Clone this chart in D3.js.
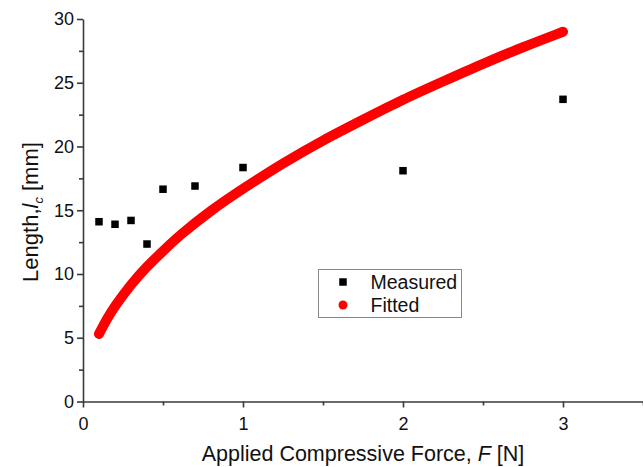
<!DOCTYPE html>
<html>
<head>
    <meta charset="UTF-8">
    <script src="https://d3js.org/d3.v7.min.js"></script>
    <style type="text/css">
        body { margin: 0; background: #fff; }
        text { font-family: "Liberation Sans", Arial, sans-serif; fill: #111; }
    </style>
</head>
<body>
    <script type="text/javascript">
        // Measured points
        var measuredForce = [0.1, 0.2, 0.3, 0.4, 0.5, 0.7, 1.0, 2.0, 3.0];
        var measuredLength = [14.1, 13.9, 14.2, 12.35, 16.65, 16.9, 18.35, 18.1, 23.7];

        // Fitted curve
        var fittedForce = [0.1, 0.15, 0.2, 0.3, 0.4, 0.5, 0.6, 0.8, 1.0, 1.25, 1.5, 1.75, 2.0, 2.25, 2.5, 2.75, 3.0];
        var fittedLength = [5.3, 6.5, 7.5, 9.2, 10.6, 11.8, 13.0, 15.0, 16.7, 18.7, 20.5, 22.1, 23.7, 25.1, 26.5, 27.8, 29.0];

        var xTicks = [0, 1, 2, 3];
        var yTicks = [0, 5, 10, 15, 20, 25, 30];

        var width = 643, height = 467;
        var margin = { top: 19, right: 0, bottom: 66, left: 83 };

        var svg = d3.select("body").append("svg")
            .attr("width", width)
            .attr("height", height);

        var x = d3.scaleLinear().domain([0, 3.5]).range([margin.left, width - margin.right]);
        var y = d3.scaleLinear().domain([0, 30]).range([height - margin.bottom + 0.5, margin.top]);

        var axisColor = "#3a3a3a";

        // minor ticks
        svg.append("g")
            .attr("transform", "translate(0," + y(0) + ")")
            .call(d3.axisBottom(x).tickValues([0.5, 1.5, 2.5, 3.5]).tickSize(4).tickFormat(""))
            .call(function (g) { g.select(".domain").remove(); });
        svg.append("g")
            .attr("transform", "translate(" + x(0) + ",0)")
            .call(d3.axisLeft(y).tickValues([2.5, 7.5, 12.5, 17.5, 22.5, 27.5]).tickSize(4).tickFormat(""))
            .call(function (g) { g.select(".domain").remove(); });

        // major axes
        var xAxis = svg.append("g")
            .attr("transform", "translate(0," + y(0) + ")")
            .call(d3.axisBottom(x).tickValues(xTicks).tickFormat(d3.format("d")).tickSize(6).tickSizeOuter(0).tickPadding(4));
        var yAxis = svg.append("g")
            .attr("transform", "translate(" + x(0) + ",0)")
            .call(d3.axisLeft(y).tickValues(yTicks).tickFormat(d3.format("d")).tickSize(6).tickSizeOuter(0).tickPadding(3));

        svg.selectAll(".domain, .tick line")
            .attr("stroke", axisColor)
            .attr("stroke-width", 1.6);
        svg.selectAll(".tick text")
            .style("font-size", "18px")
            .style("font-family", "'Liberation Sans', Arial, sans-serif")
            .attr("fill", "#111");
        xAxis.selectAll(".tick text").attr("dy", "1.0em");

        // fitted curve
        var fitted = fittedForce.map(function (f, i) { return [f, fittedLength[i]]; });
        var line = d3.line()
            .x(function (d) { return x(d[0]); })
            .y(function (d) { return y(d[1]); })
            .curve(d3.curveBasis);
        svg.append("path")
            .datum(fitted)
            .attr("fill", "none")
            .attr("stroke", "#ff0000")
            .attr("stroke-width", 10)
            .attr("stroke-linecap", "round")
            .attr("d", line);

        // measured points
        var s = 7.5;
        svg.selectAll(".measured")
            .data(measuredForce)
            .enter().append("rect")
            .attr("class", "measured")
            .attr("x", function (d) { return x(d) - s / 2; })
            .attr("y", function (d, i) { return y(measuredLength[i]) - s / 2; })
            .attr("width", s)
            .attr("height", s)
            .attr("fill", "#000");

        // legend
        var legend = svg.append("g").attr("transform", "translate(318.5,269.5)");
        legend.append("rect")
            .attr("width", 143)
            .attr("height", 48)
            .attr("fill", "#fff")
            .attr("stroke", "#888")
            .attr("stroke-width", 1);
        legend.append("rect")
            .attr("x", 24.5 - s / 2).attr("y", 12.5 - s / 2)
            .attr("width", s).attr("height", s)
            .attr("fill", "#000");
        legend.append("circle")
            .attr("cx", 24.5).attr("cy", 35.5).attr("r", 4.5)
            .attr("fill", "#ff0000");
        legend.append("text")
            .attr("x", 52).attr("y", 19.5)
            .style("font-size", "19.5px")
            .text("Measured");
        legend.append("text")
            .attr("x", 52).attr("y", 42.5)
            .style("font-size", "19.5px")
            .text("Fitted");

        // axis titles
        var xt = svg.append("text")
            .attr("x", 363)
            .attr("y", 461)
            .attr("text-anchor", "middle")
            .style("font-size", "21.5px");
        xt.append("tspan").text("Applied Compressive Force, ");
        xt.append("tspan").style("font-style", "italic").text("F");
        xt.append("tspan").text(" [N]");

        var yt = svg.append("text")
            .attr("transform", "translate(38,212) rotate(-90)")
            .attr("text-anchor", "middle")
            .style("font-size", "22px");
        yt.append("tspan").text("Length,");
        yt.append("tspan").style("font-style", "italic").text("l");
        yt.append("tspan").style("font-style", "italic").style("font-size", "13px").attr("dy", 5).text("c");
        yt.append("tspan").attr("dy", -5).text(" [mm]");
    </script>
</body>
</html>
